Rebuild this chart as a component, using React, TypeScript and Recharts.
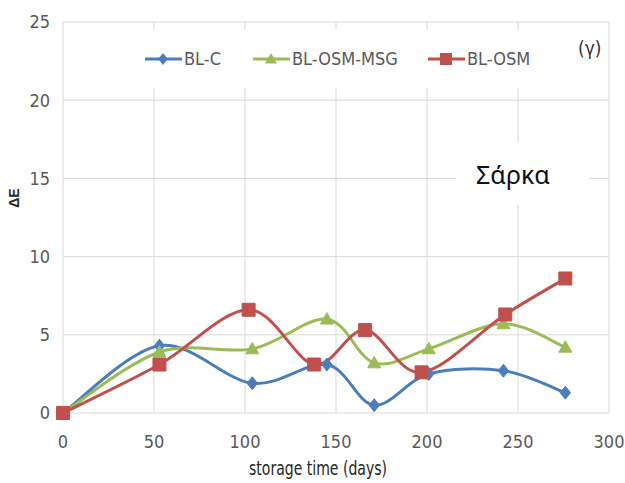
import React from 'react';
import { LineChart, Line, XAxis, YAxis, CartesianGrid, Legend } from 'recharts';

// ΔE over storage time, one list of days and one of values per sample
const DAYS_C = [0, 53, 104, 145, 171, 201, 242, 276];
const DE_C = [0, 4.3, 1.9, 3.1, 0.5, 2.5, 2.7, 1.3];
const DAYS_MSG = [0, 53, 104, 145, 171, 201, 242, 276];
const DE_MSG = [0, 3.9, 4.1, 6.0, 3.2, 4.1, 5.7, 4.2];
const DAYS_OSM = [0, 53, 102, 138, 166, 197, 243, 276];
const DE_OSM = [0, 3.1, 6.6, 3.1, 5.3, 2.6, 6.3, 8.6];

const X_TICKS = [0, 50, 100, 150, 200, 250, 300];
const Y_TICKS = [0, 5, 10, 15, 20, 25];

const NARROW = '"Liberation Sans Narrow", "DejaVu Sans Condensed", "Liberation Sans", sans-serif';
const GRID = '#d9d9d9';

const zip = (xs: number[], ys: number[]) => xs.map((x, i) => ({ day: x, de: ys[i] }));

type Shape = 'diamond' | 'triangle' | 'square';

const SERIES: { name: string; color: string; shape: Shape; data: { day: number; de: number }[] }[] = [
  { name: 'BL-C', color: '#4a7ebb', shape: 'diamond', data: zip(DAYS_C, DE_C) },
  { name: 'BL-OSM-MSG', color: '#9bbb59', shape: 'triangle', data: zip(DAYS_MSG, DE_MSG) },
  { name: 'BL-OSM', color: '#c0504d', shape: 'square', data: zip(DAYS_OSM, DE_OSM) },
];

// Excel-like smoothing: Catmull-Rom through every point, emitted as cubic Béziers
const smoothCurve = (context: any) => {
  let pts: number[][] = [];
  return {
    areaStart() {},
    areaEnd() {},
    lineStart() {
      pts = [];
    },
    point(x: number, y: number) {
      pts.push([+x, +y]);
    },
    lineEnd() {
      if (!pts.length) return;
      context.moveTo(pts[0][0], pts[0][1]);
      for (let i = 0; i < pts.length - 1; i++) {
        const p0 = pts[Math.max(i - 1, 0)];
        const p1 = pts[i];
        const p2 = pts[i + 1];
        const p3 = pts[Math.min(i + 2, pts.length - 1)];
        context.bezierCurveTo(
          p1[0] + (p2[0] - p0[0]) / 6,
          p1[1] + (p2[1] - p0[1]) / 6,
          p2[0] - (p3[0] - p1[0]) / 6,
          p2[1] - (p3[1] - p1[1]) / 6,
          p2[0],
          p2[1],
        );
      }
    },
  };
};

const shapePath = (shape: Shape, cx: number, cy: number, r: number) => {
  if (shape === 'diamond') return `M${cx},${cy - r}L${cx + r * 0.8},${cy}L${cx},${cy + r}L${cx - r * 0.8},${cy}Z`;
  if (shape === 'triangle') return `M${cx},${cy - r}L${cx + r},${cy + r * 0.75}L${cx - r},${cy + r * 0.75}Z`;
  return `M${cx - r},${cy - r}h${2 * r}v${2 * r}h${-2 * r}Z`;
};

const marker = (shape: Shape, color: string, r: number) => (props: any) => {
  const { cx, cy, index } = props;
  if (cx == null || cy == null) return <g key={`m-${index}`} />;
  return <path key={`m-${index}`} d={shapePath(shape, cx, cy, r)} fill={color} stroke={color} strokeWidth={1} />;
};

const MARKER_SIZE: Record<Shape, number> = { diamond: 6.5, triangle: 6.5, square: 6.5 };

// legend offsets inside its white box
const LEGEND_X = [15, 123, 298];

const LegendRow = () => (
  <svg width={400} height={58} style={{ display: 'block' }}>
    <rect x={0} y={0} width={400} height={58} fill="#fff" />
    {SERIES.map((s, i) => {
      const x0 = LEGEND_X[i];
      return (
        <g key={s.name}>
          <line x1={x0} x2={x0 + 37} y1={29} y2={29} stroke={s.color} strokeWidth={3} />
          <path d={shapePath(s.shape, x0 + 18, 29, 6)} fill={s.color} />
          <text x={x0 + 39} y={35} fontSize={18} fill="#595959" fontFamily={NARROW}>
            {s.name}
          </text>
        </g>
      );
    })}
  </svg>
);

export default function App() {
  return (
    <div style={{ position: 'relative', width: 625, height: 483, background: '#fff' }}>
      <style>{'body{margin:0}'}</style>
      <LineChart width={625} height={483} margin={{ top: 22, right: 16, bottom: 0, left: 0 }}>
        <CartesianGrid stroke={GRID} strokeWidth={1} />
        <XAxis
          type="number"
          dataKey="day"
          domain={[0, 300]}
          ticks={X_TICKS}
          axisLine={false}
          tickLine={false}
          tickSize={0}
          tickMargin={22}
          height={70}
          tick={{ fontSize: 18, fill: '#595959', fontFamily: NARROW }}
          label={{
            content: () => (
              <text
                x={318}
                y={475}
                textAnchor="middle"
                fontSize={20}
                fill="#262626"
                fontFamily={NARROW}
                textLength={138}
                lengthAdjust="spacingAndGlyphs"
              >
                storage time (days)
              </text>
            ),
          }}
        />
        <YAxis
          type="number"
          domain={[0, 25]}
          ticks={Y_TICKS}
          axisLine={false}
          tickLine={false}
          tickSize={0}
          tickMargin={13}
          width={63}
          tick={{ fontSize: 18, fill: '#595959', fontFamily: NARROW }}
          label={{
            content: () => (
              <text
                x={14}
                y={198}
                transform="rotate(-90 14 198)"
                textAnchor="middle"
                dominantBaseline="central"
                fontSize={14}
                fontWeight="bold"
                fill="#262626"
                fontFamily='"Liberation Sans", Arial, sans-serif'
              >
                ΔE
              </text>
            ),
          }}
        />
        <Legend
          layout="horizontal"
          verticalAlign="middle"
          align="center"
          wrapperStyle={{ top: 30, left: 130, width: 400, height: 58 }}
          content={() => <LegendRow />}
        />
        {SERIES.map((s) => (
          <Line
            key={s.name}
            name={s.name}
            data={s.data}
            dataKey="de"
            type={smoothCurve as any}
            stroke={s.color}
            strokeWidth={3}
            dot={marker(s.shape, s.color, MARKER_SIZE[s.shape])}
            activeDot={false}
            isAnimationActive={false}
          />
        ))}
      </LineChart>
      <div
        style={{
          position: 'absolute',
          left: 578,
          top: 36,
          fontFamily: NARROW,
          fontSize: 19,
          color: '#333',
          lineHeight: '24px',
        }}
      >
        (γ)
      </div>
      <div
        style={{
          position: 'absolute',
          left: 456,
          top: 142,
          width: 133,
          height: 63,
          background: '#fff',
          display: 'flex',
          alignItems: 'center',
          paddingLeft: 20,
          boxSizing: 'border-box',
          fontFamily: '"Noto Sans", "Open Sans", sans-serif',
          fontSize: 25,
          color: '#111',
        }}
      >
        Σάρκα
      </div>
    </div>
  );
}
